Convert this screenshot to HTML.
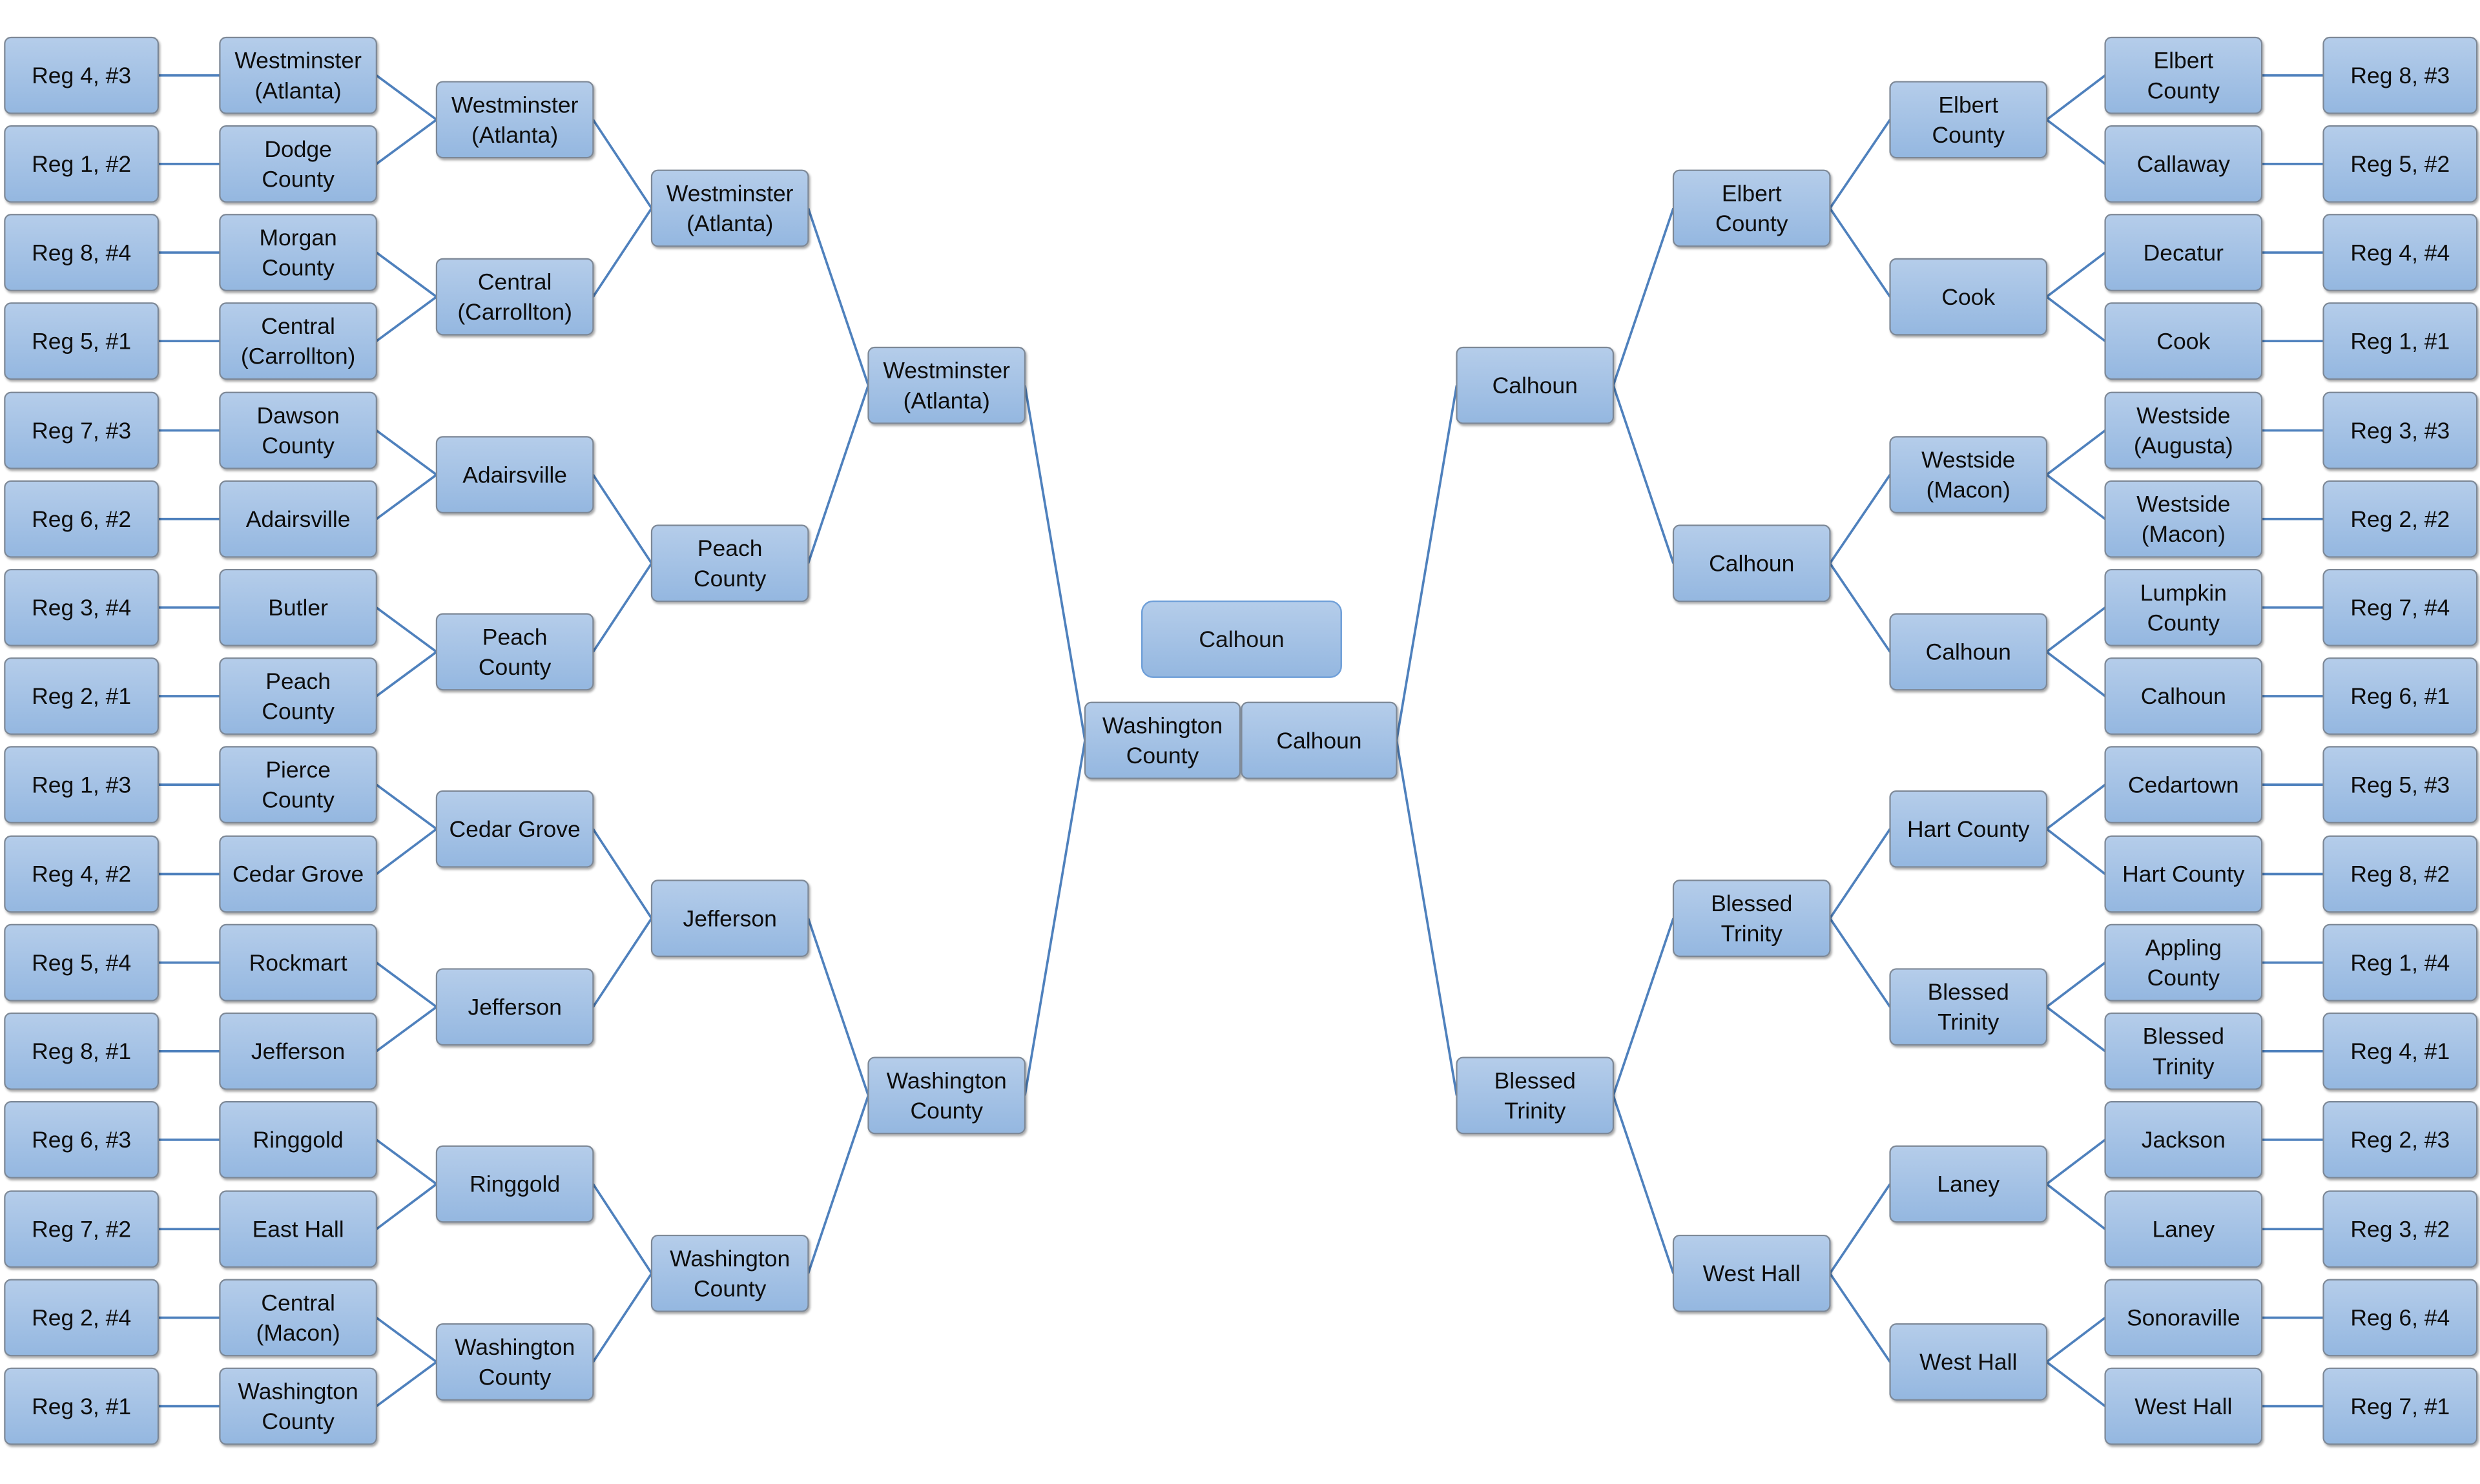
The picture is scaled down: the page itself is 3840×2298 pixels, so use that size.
<!DOCTYPE html>
<html><head><meta charset="utf-8"><style>
html,body{margin:0;padding:0;background:#fff;}
svg{display:block;}
.b{fill:url(#g);stroke:#7d8896;stroke-width:0.9;}
.c{fill:url(#g);stroke:#6f9fd8;stroke-width:1;}
text{font-family:"Liberation Sans",sans-serif;font-size:14.5px;fill:#111;text-anchor:middle;}
.l{fill:none;stroke:#4f81bd;stroke-width:1.5;}
</style></head><body>
<svg width="3840" height="2298" viewBox="0 0 1568 938" xmlns="http://www.w3.org/2000/svg">
<defs><linearGradient id="g" x1="0" y1="0" x2="0" y2="1"><stop offset="0" stop-color="#b5cdea"/><stop offset="1" stop-color="#94b7e0"/></linearGradient>
<filter id="s" x="-10%" y="-10%" width="130%" height="130%"><feDropShadow dx="0.8" dy="1.2" stdDeviation="0.8" flood-color="#000" flood-opacity="0.35"/></filter></defs>
<path class="l" d="
M100 47.5H139 M100 103.5H139 M100 159.5H139 M100 215.5H139 M100 272H139 M100 328H139 M100 384H139 M100 440H139 M100 496H139 M100 552.5H139 M100 608.5H139 M100 664.5H139 M100 720.5H139 M100 777H139 M100 833H139 M100 889H139
M238 47.5L276 75.5L238 103.5 M238 159.5L276 187.5L238 215.5 M238 272L276 300L238 328 M238 384L276 412L238 440 M238 496L276 524L238 552.5 M238 608.5L276 636.5L238 664.5 M238 720.5L276 748.5L238 777 M238 833L276 861L238 889
M375 75.5L412 131.5L375 187.5 M375 300L412 356L375 412 M375 524L412 580.5L375 636.5 M375 748.5L412 805L375 861
M511 131.5L549 243.5L511 356 M511 580.5L549 692.5L511 805
M648 243.5L686 468L648 692.5
M1469 47.5H1430 M1469 103.5H1430 M1469 159.5H1430 M1469 215.5H1430 M1469 272H1430 M1469 328H1430 M1469 384H1430 M1469 440H1430 M1469 496H1430 M1469 552.5H1430 M1469 608.5H1430 M1469 664.5H1430 M1469 720.5H1430 M1469 777H1430 M1469 833H1430 M1469 889H1430
M1331 47.5L1294 75.5L1331 103.5 M1331 159.5L1294 187.5L1331 215.5 M1331 272L1294 300L1331 328 M1331 384L1294 412L1331 440 M1331 496L1294 524L1331 552.5 M1331 608.5L1294 636.5L1331 664.5 M1331 720.5L1294 748.5L1331 777 M1331 833L1294 861L1331 889
M1195 75.5L1157 131.5L1195 187.5 M1195 300L1157 356L1195 412 M1195 524L1157 580.5L1195 636.5 M1195 748.5L1157 805L1195 861
M1058 131.5L1020 243.5L1058 356 M1058 580.5L1020 692.5L1058 805
M921 243.5L883 468L921 692.5"/>
<g filter="url(#s)">
<!-- Left Reg column -->
<rect class="b" x="3" y="23.5" width="97" height="48" rx="4"/><text x="51.5" y="52.5">Reg 4, #3</text>
<rect class="b" x="3" y="79.5" width="97" height="48" rx="4"/><text x="51.5" y="108.5">Reg 1, #2</text>
<rect class="b" x="3" y="135.5" width="97" height="48" rx="4"/><text x="51.5" y="164.5">Reg 8, #4</text>
<rect class="b" x="3" y="191.5" width="97" height="48" rx="4"/><text x="51.5" y="220.5">Reg 5, #1</text>
<rect class="b" x="3" y="248" width="97" height="48" rx="4"/><text x="51.5" y="277">Reg 7, #3</text>
<rect class="b" x="3" y="304" width="97" height="48" rx="4"/><text x="51.5" y="333">Reg 6, #2</text>
<rect class="b" x="3" y="360" width="97" height="48" rx="4"/><text x="51.5" y="389">Reg 3, #4</text>
<rect class="b" x="3" y="416" width="97" height="48" rx="4"/><text x="51.5" y="445">Reg 2, #1</text>
<rect class="b" x="3" y="472" width="97" height="48" rx="4"/><text x="51.5" y="501">Reg 1, #3</text>
<rect class="b" x="3" y="528.5" width="97" height="48" rx="4"/><text x="51.5" y="557.5">Reg 4, #2</text>
<rect class="b" x="3" y="584.5" width="97" height="48" rx="4"/><text x="51.5" y="613.5">Reg 5, #4</text>
<rect class="b" x="3" y="640.5" width="97" height="48" rx="4"/><text x="51.5" y="669.5">Reg 8, #1</text>
<rect class="b" x="3" y="696.5" width="97" height="48" rx="4"/><text x="51.5" y="725.5">Reg 6, #3</text>
<rect class="b" x="3" y="753" width="97" height="48" rx="4"/><text x="51.5" y="782">Reg 7, #2</text>
<rect class="b" x="3" y="809" width="97" height="48" rx="4"/><text x="51.5" y="838">Reg 2, #4</text>
<rect class="b" x="3" y="865" width="97" height="48" rx="4"/><text x="51.5" y="894">Reg 3, #1</text>
<!-- Left col2 -->
<rect class="b" x="139" y="23.5" width="99" height="48" rx="4"/><text x="188.5" y="43">Westminster</text><text x="188.5" y="62">(Atlanta)</text>
<rect class="b" x="139" y="79.5" width="99" height="48" rx="4"/><text x="188.5" y="99">Dodge</text><text x="188.5" y="118">County</text>
<rect class="b" x="139" y="135.5" width="99" height="48" rx="4"/><text x="188.5" y="155">Morgan</text><text x="188.5" y="174">County</text>
<rect class="b" x="139" y="191.5" width="99" height="48" rx="4"/><text x="188.5" y="211">Central</text><text x="188.5" y="230">(Carrollton)</text>
<rect class="b" x="139" y="248" width="99" height="48" rx="4"/><text x="188.5" y="267.5">Dawson</text><text x="188.5" y="286.5">County</text>
<rect class="b" x="139" y="304" width="99" height="48" rx="4"/><text x="188.5" y="333">Adairsville</text>
<rect class="b" x="139" y="360" width="99" height="48" rx="4"/><text x="188.5" y="389">Butler</text>
<rect class="b" x="139" y="416" width="99" height="48" rx="4"/><text x="188.5" y="435.5">Peach</text><text x="188.5" y="454.5">County</text>
<rect class="b" x="139" y="472" width="99" height="48" rx="4"/><text x="188.5" y="491.5">Pierce</text><text x="188.5" y="510.5">County</text>
<rect class="b" x="139" y="528.5" width="99" height="48" rx="4"/><text x="188.5" y="557.5">Cedar Grove</text>
<rect class="b" x="139" y="584.5" width="99" height="48" rx="4"/><text x="188.5" y="613.5">Rockmart</text>
<rect class="b" x="139" y="640.5" width="99" height="48" rx="4"/><text x="188.5" y="669.5">Jefferson</text>
<rect class="b" x="139" y="696.5" width="99" height="48" rx="4"/><text x="188.5" y="725.5">Ringgold</text>
<rect class="b" x="139" y="753" width="99" height="48" rx="4"/><text x="188.5" y="782">East Hall</text>
<rect class="b" x="139" y="809" width="99" height="48" rx="4"/><text x="188.5" y="828.5">Central</text><text x="188.5" y="847.5">(Macon)</text>
<rect class="b" x="139" y="865" width="99" height="48" rx="4"/><text x="188.5" y="884.5">Washington</text><text x="188.5" y="903.5">County</text>
<!-- Left col3 -->
<rect class="b" x="276" y="51.5" width="99" height="48" rx="4"/><text x="325.5" y="71">Westminster</text><text x="325.5" y="90">(Atlanta)</text>
<rect class="b" x="276" y="163.5" width="99" height="48" rx="4"/><text x="325.5" y="183">Central</text><text x="325.5" y="202">(Carrollton)</text>
<rect class="b" x="276" y="276" width="99" height="48" rx="4"/><text x="325.5" y="305">Adairsville</text>
<rect class="b" x="276" y="388" width="99" height="48" rx="4"/><text x="325.5" y="407.5">Peach</text><text x="325.5" y="426.5">County</text>
<rect class="b" x="276" y="500" width="99" height="48" rx="4"/><text x="325.5" y="529">Cedar Grove</text>
<rect class="b" x="276" y="612.5" width="99" height="48" rx="4"/><text x="325.5" y="641.5">Jefferson</text>
<rect class="b" x="276" y="724.5" width="99" height="48" rx="4"/><text x="325.5" y="753.5">Ringgold</text>
<rect class="b" x="276" y="837" width="99" height="48" rx="4"/><text x="325.5" y="856.5">Washington</text><text x="325.5" y="875.5">County</text>
<!-- Left col4 -->
<rect class="b" x="412" y="107.5" width="99" height="48" rx="4"/><text x="461.5" y="127">Westminster</text><text x="461.5" y="146">(Atlanta)</text>
<rect class="b" x="412" y="332" width="99" height="48" rx="4"/><text x="461.5" y="351.5">Peach</text><text x="461.5" y="370.5">County</text>
<rect class="b" x="412" y="556.5" width="99" height="48" rx="4"/><text x="461.5" y="585.5">Jefferson</text>
<rect class="b" x="412" y="781" width="99" height="48" rx="4"/><text x="461.5" y="800.5">Washington</text><text x="461.5" y="819.5">County</text>
<!-- Left col5 -->
<rect class="b" x="549" y="219.5" width="99" height="48" rx="4"/><text x="598.5" y="239">Westminster</text><text x="598.5" y="258">(Atlanta)</text>
<rect class="b" x="549" y="668.5" width="99" height="48" rx="4"/><text x="598.5" y="688">Washington</text><text x="598.5" y="707">County</text>
<!-- Center -->
<rect class="b" x="686" y="444" width="98" height="48" rx="4"/><text x="735" y="463.5">Washington</text><text x="735" y="482.5">County</text>
<rect class="b" x="785" y="444" width="98" height="48" rx="4"/><text x="834" y="473">Calhoun</text>
</g>
<rect class="c" x="722" y="380" width="126" height="48" rx="7"/><text x="785" y="409">Calhoun</text>
<g filter="url(#s)">
<!-- Right col5 -->
<rect class="b" x="921" y="219.5" width="99" height="48" rx="4"/><text x="970.5" y="248.5">Calhoun</text>
<rect class="b" x="921" y="668.5" width="99" height="48" rx="4"/><text x="970.5" y="688">Blessed</text><text x="970.5" y="707">Trinity</text>
<!-- Right col4 -->
<rect class="b" x="1058" y="107.5" width="99" height="48" rx="4"/><text x="1107.5" y="127">Elbert</text><text x="1107.5" y="146">County</text>
<rect class="b" x="1058" y="332" width="99" height="48" rx="4"/><text x="1107.5" y="361">Calhoun</text>
<rect class="b" x="1058" y="556.5" width="99" height="48" rx="4"/><text x="1107.5" y="576">Blessed</text><text x="1107.5" y="595">Trinity</text>
<rect class="b" x="1058" y="781" width="99" height="48" rx="4"/><text x="1107.5" y="810">West Hall</text>
<!-- Right col3 -->
<rect class="b" x="1195" y="51.5" width="99" height="48" rx="4"/><text x="1244.5" y="71">Elbert</text><text x="1244.5" y="90">County</text>
<rect class="b" x="1195" y="163.5" width="99" height="48" rx="4"/><text x="1244.5" y="192.5">Cook</text>
<rect class="b" x="1195" y="276" width="99" height="48" rx="4"/><text x="1244.5" y="295.5">Westside</text><text x="1244.5" y="314.5">(Macon)</text>
<rect class="b" x="1195" y="388" width="99" height="48" rx="4"/><text x="1244.5" y="417">Calhoun</text>
<rect class="b" x="1195" y="500" width="99" height="48" rx="4"/><text x="1244.5" y="529">Hart County</text>
<rect class="b" x="1195" y="612.5" width="99" height="48" rx="4"/><text x="1244.5" y="632">Blessed</text><text x="1244.5" y="651">Trinity</text>
<rect class="b" x="1195" y="724.5" width="99" height="48" rx="4"/><text x="1244.5" y="753.5">Laney</text>
<rect class="b" x="1195" y="837" width="99" height="48" rx="4"/><text x="1244.5" y="866">West Hall</text>
<!-- Right col2 -->
<rect class="b" x="1331" y="23.5" width="99" height="48" rx="4"/><text x="1380.5" y="43">Elbert</text><text x="1380.5" y="62">County</text>
<rect class="b" x="1331" y="79.5" width="99" height="48" rx="4"/><text x="1380.5" y="108.5">Callaway</text>
<rect class="b" x="1331" y="135.5" width="99" height="48" rx="4"/><text x="1380.5" y="164.5">Decatur</text>
<rect class="b" x="1331" y="191.5" width="99" height="48" rx="4"/><text x="1380.5" y="220.5">Cook</text>
<rect class="b" x="1331" y="248" width="99" height="48" rx="4"/><text x="1380.5" y="267.5">Westside</text><text x="1380.5" y="286.5">(Augusta)</text>
<rect class="b" x="1331" y="304" width="99" height="48" rx="4"/><text x="1380.5" y="323.5">Westside</text><text x="1380.5" y="342.5">(Macon)</text>
<rect class="b" x="1331" y="360" width="99" height="48" rx="4"/><text x="1380.5" y="379.5">Lumpkin</text><text x="1380.5" y="398.5">County</text>
<rect class="b" x="1331" y="416" width="99" height="48" rx="4"/><text x="1380.5" y="445">Calhoun</text>
<rect class="b" x="1331" y="472" width="99" height="48" rx="4"/><text x="1380.5" y="501">Cedartown</text>
<rect class="b" x="1331" y="528.5" width="99" height="48" rx="4"/><text x="1380.5" y="557.5">Hart County</text>
<rect class="b" x="1331" y="584.5" width="99" height="48" rx="4"/><text x="1380.5" y="604">Appling</text><text x="1380.5" y="623">County</text>
<rect class="b" x="1331" y="640.5" width="99" height="48" rx="4"/><text x="1380.5" y="660">Blessed</text><text x="1380.5" y="679">Trinity</text>
<rect class="b" x="1331" y="696.5" width="99" height="48" rx="4"/><text x="1380.5" y="725.5">Jackson</text>
<rect class="b" x="1331" y="753" width="99" height="48" rx="4"/><text x="1380.5" y="782">Laney</text>
<rect class="b" x="1331" y="809" width="99" height="48" rx="4"/><text x="1380.5" y="838">Sonoraville</text>
<rect class="b" x="1331" y="865" width="99" height="48" rx="4"/><text x="1380.5" y="894">West Hall</text>
<!-- Right Reg column -->
<rect class="b" x="1469" y="23.5" width="97" height="48" rx="4"/><text x="1517.5" y="52.5">Reg 8, #3</text>
<rect class="b" x="1469" y="79.5" width="97" height="48" rx="4"/><text x="1517.5" y="108.5">Reg 5, #2</text>
<rect class="b" x="1469" y="135.5" width="97" height="48" rx="4"/><text x="1517.5" y="164.5">Reg 4, #4</text>
<rect class="b" x="1469" y="191.5" width="97" height="48" rx="4"/><text x="1517.5" y="220.5">Reg 1, #1</text>
<rect class="b" x="1469" y="248" width="97" height="48" rx="4"/><text x="1517.5" y="277">Reg 3, #3</text>
<rect class="b" x="1469" y="304" width="97" height="48" rx="4"/><text x="1517.5" y="333">Reg 2, #2</text>
<rect class="b" x="1469" y="360" width="97" height="48" rx="4"/><text x="1517.5" y="389">Reg 7, #4</text>
<rect class="b" x="1469" y="416" width="97" height="48" rx="4"/><text x="1517.5" y="445">Reg 6, #1</text>
<rect class="b" x="1469" y="472" width="97" height="48" rx="4"/><text x="1517.5" y="501">Reg 5, #3</text>
<rect class="b" x="1469" y="528.5" width="97" height="48" rx="4"/><text x="1517.5" y="557.5">Reg 8, #2</text>
<rect class="b" x="1469" y="584.5" width="97" height="48" rx="4"/><text x="1517.5" y="613.5">Reg 1, #4</text>
<rect class="b" x="1469" y="640.5" width="97" height="48" rx="4"/><text x="1517.5" y="669.5">Reg 4, #1</text>
<rect class="b" x="1469" y="696.5" width="97" height="48" rx="4"/><text x="1517.5" y="725.5">Reg 2, #3</text>
<rect class="b" x="1469" y="753" width="97" height="48" rx="4"/><text x="1517.5" y="782">Reg 3, #2</text>
<rect class="b" x="1469" y="809" width="97" height="48" rx="4"/><text x="1517.5" y="838">Reg 6, #4</text>
<rect class="b" x="1469" y="865" width="97" height="48" rx="4"/><text x="1517.5" y="894">Reg 7, #1</text>
</g>
</svg>
</body></html>
